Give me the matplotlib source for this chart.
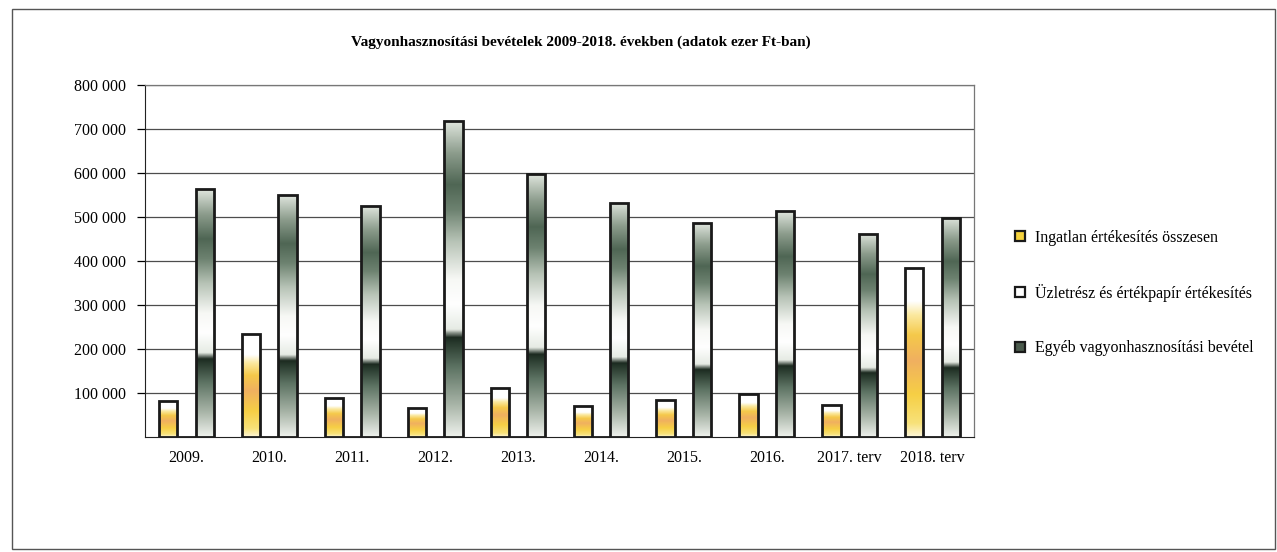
"""Vagyonhasznosítási bevételek 2009-2018 — grouped bar chart with gradient fills."""

import matplotlib

matplotlib.use("Agg")
import matplotlib.pyplot as plt  # noqa: E402
import numpy as np  # noqa: E402
from matplotlib.colors import LinearSegmentedColormap  # noqa: E402
from matplotlib.lines import Line2D  # noqa: E402
from matplotlib.patches import Rectangle  # noqa: E402
from matplotlib.ticker import FuncFormatter  # noqa: E402

plt.rcParams["font.family"] = ["Liberation Serif", "DejaVu Serif"]

years = ["2009.", "2010.", "2011.", "2012.", "2013.", "2014.", "2015.", "2016.",
         "2017. terv", "2018. terv"]
ingatlan = [81000, 233000, 88000, 66000, 111000, 70000, 83000, 97000, 73000, 385000]
uzletresz = [0, 0, 0, 0, 0, 0, 0, 0, 0, 0]
egyeb = [563000, 549000, 524000, 718000, 597000, 532000, 486000, 513000, 462000, 498000]

series_labels = [
    "Ingatlan értékesítés összesen",
    "Üzletrész és értékpapír értékesítés",
    "Egyéb vagyonhasznosítási bevétel",
]
title = "Vagyonhasznosítási bevételek 2009-2018. években (adatok ezer Ft-ban)"

# gradient profiles (position from bar bottom -> colour)
yellow_cmap = LinearSegmentedColormap.from_list("yel", [
    (0.00, "#fdf6d8"), (0.08, "#f8e27a"), (0.25, "#f6cf45"), (0.45, "#f0b060"),
    (0.60, "#f5c94a"), (0.72, "#fbe9a0"), (0.80, "#ffffff"), (1.00, "#ffffff")])
green_cmap = LinearSegmentedColormap.from_list("grn", [
    (0.00, "#eef1ec"), (0.10, "#a9b5a8"), (0.22, "#5d7363"), (0.30, "#26372b"),
    (0.315, "#1c2a20"), (0.34, "#e6ebe4"), (0.42, "#ffffff"), (0.50, "#f7f8f5"),
    (0.62, "#b7c3b6"), (0.72, "#6d8270"), (0.80, "#4f6654"), (0.90, "#8c9c8c"),
    (1.00, "#dfe5dd")])
white_cmap = LinearSegmentedColormap.from_list("wht", ["#ffffff", "#ffffff"])

W, H = 1277, 552
fig = plt.figure(figsize=(W / 100, H / 100), dpi=100)
fig.patches.append(Rectangle((12 / W, 3 / H), 1263 / W, 540 / H, transform=fig.transFigure,
                             fill=False, edgecolor="#555555", lw=1.0))

ax = fig.add_axes([145 / W, (H - 437) / H, (974 - 145) / W, (437 - 85) / H])
x = np.arange(len(years))
width = 0.22
grad = np.linspace(0, 1, 256).reshape(-1, 1)

for offset, vals, cmap in [(-width, ingatlan, yellow_cmap),
                           (0.0, uzletresz, white_cmap),
                           (width, egyeb, green_cmap)]:
    bars = ax.bar(x + offset, vals, width, facecolor="none", edgecolor="#1a1a1a",
                  linewidth=2.0, zorder=4)
    for b in bars:
        h = b.get_height()
        if h <= 0:
            continue
        x0 = b.get_x()
        im = ax.imshow(grad, cmap=cmap, origin="lower", aspect="auto",
                       extent=(x0, x0 + b.get_width(), 0, h), zorder=3)
        im.set_clip_path(b)

ax.set_xlim(-0.5, len(years) - 0.5)
ax.set_ylim(0, 800000)
ax.set_yticks(np.arange(100000, 800001, 100000))
ax.yaxis.set_major_formatter(FuncFormatter(lambda v, _: f"{int(v):,}".replace(",", " ")))
ax.grid(axis="y", color="#4d4d4d", lw=0.9, zorder=1)
ax.set_axisbelow(True)
ax.set_xticks(x)
ax.set_xticklabels(years)
ax.tick_params(axis="x", length=0, pad=9, labelsize=11.5)
ax.tick_params(axis="y", length=6, width=0.9, direction="out", pad=8, labelsize=11.5)
for side in ["top", "right"]:
    ax.spines[side].set_color("#777777")
    ax.spines[side].set_linewidth(0.9)
ax.spines["left"].set_color("#222222")
ax.spines["bottom"].set_color("#222222")

fig.text(581 / W, 1 - 42 / H, title, ha="center", va="center", fontsize=11,
         fontweight="bold")

handles = [
    Line2D([], [], ls="none", marker="s", ms=6.5, mfc="#f5d23c", mec="#1a1a1a", mew=1.6),
    Line2D([], [], ls="none", marker="s", ms=6.5, mfc="#ffffff", mec="#1a1a1a", mew=1.6),
    Line2D([], [], ls="none", marker="s", ms=6.5, mfc="#4a5a4c", mec="#1a1a1a", mew=1.6),
]
fig.legend(handles, series_labels, loc="center left", bbox_to_anchor=(998 / W, 1 - 293 / H),
           frameon=False, fontsize=11.5, labelspacing=2.4, handletextpad=0.4,
           handlelength=1.0)

fig.savefig("out.png", dpi=100)
